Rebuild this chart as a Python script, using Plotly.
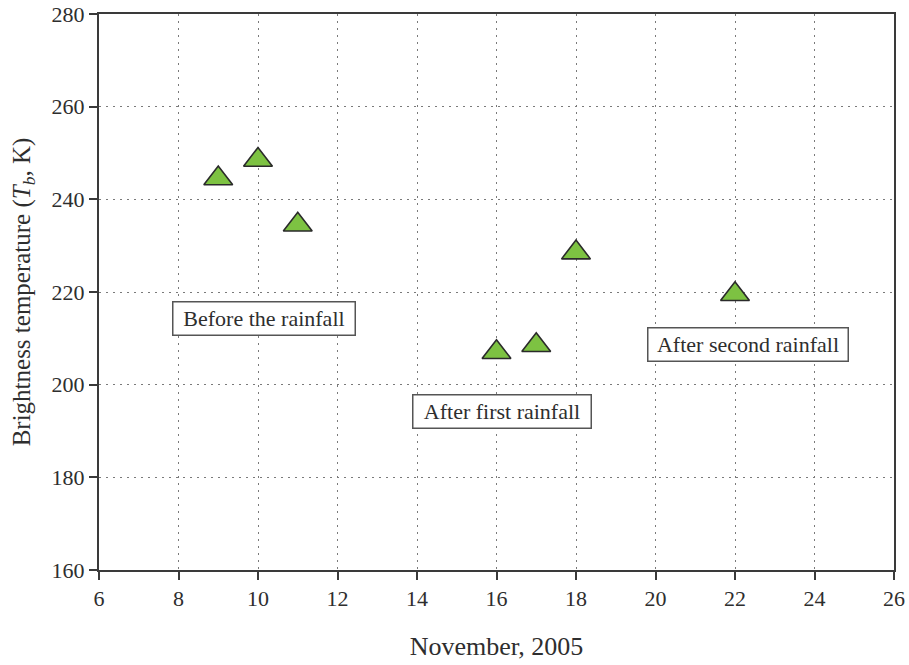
import plotly.graph_objects as go

# Observation days (November 2005) and brightness temperatures
days = [9, 10, 11, 16, 17, 18, 22]
tb_values = [244.5, 248.5, 234.5, 207.0, 208.5, 228.5, 219.5]

# Period labels, their placement in data coordinates and box widths (px)
period_labels = ["Before the rainfall", "After first rainfall", "After second rainfall"]
label_x = [10.15, 16.15, 22.32]
label_y = [214.2, 194.3, 208.6]
label_w = [173, 169, 191]

x_ticks = list(range(6, 27, 2))
y_ticks = list(range(160, 281, 20))

FONT = "Liberation Serif, Times New Roman, serif"
AXIS_COLOR = "#3a3a3a"
TEXT_COLOR = "#2e2e2e"

fig = go.Figure()
fig.add_trace(go.Scatter(
    x=days, y=tb_values, mode="markers",
    marker=dict(symbol="triangle-up", size=25, color="#7dc242",
                line=dict(color="#2a2a2a", width=1.6)),
    showlegend=False, hoverinfo="x+y",
))

for text, lx, ly, w in zip(period_labels, label_x, label_y, label_w):
    fig.add_annotation(
        x=lx, y=ly, xref="x", yref="y", text=text, showarrow=False,
        width=w, height=24, align="center",
        font=dict(family=FONT, size=22, color=TEXT_COLOR),
        bgcolor="white", bordercolor="#555555", borderwidth=1.5, borderpad=4,
    )

axis_common = dict(
    showline=True, linecolor=AXIS_COLOR, linewidth=2, mirror=True,
    ticks="outside", ticklen=8, tickwidth=1.5, tickcolor=AXIS_COLOR,
    showgrid=True, gridcolor="#7a7a7a", gridwidth=1, griddash="2px,5px",
    zeroline=False,
    tickfont=dict(family=FONT, size=22, color=TEXT_COLOR),
)

fig.update_xaxes(
    range=[6, 26], tickvals=x_ticks, ticktext=[str(v) for v in x_ticks],
    title=dict(text="November, 2005", font=dict(family=FONT, size=26, color=TEXT_COLOR),
               standoff=26),
    **axis_common,
)
fig.update_yaxes(
    range=[160, 280], tickvals=y_ticks, ticktext=[str(v) for v in y_ticks],
    title=dict(text="Brightness temperature (<i>T</i><sub><i>b</i></sub>, K)",
               font=dict(family=FONT, size=25, color=TEXT_COLOR), standoff=14),
    **axis_common,
)

fig.update_layout(
    width=909, height=665,
    margin=dict(l=99, r=15, t=14, b=95, autoexpand=False),
    paper_bgcolor="white", plot_bgcolor="white",
    font=dict(family=FONT),
)

fig.write_html("out.html")
